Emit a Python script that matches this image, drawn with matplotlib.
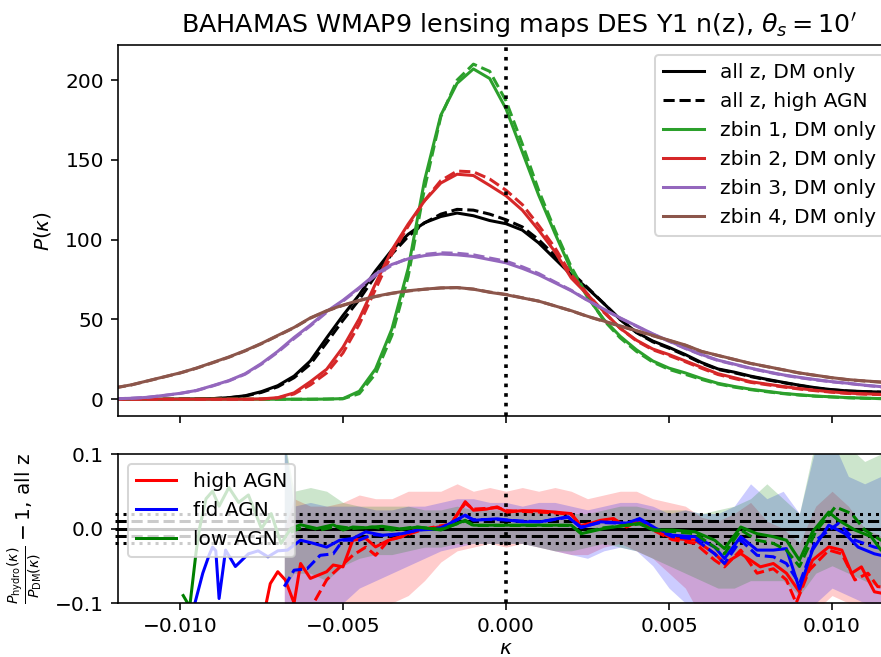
import matplotlib
matplotlib.use("Agg")
import matplotlib.pyplot as plt

# convergence bins (top panel)
kappa = [-0.012, -0.0115, -0.011, -0.0105, -0.010, -0.0095, -0.009, -0.0085, -0.008, -0.0075,
         -0.007, -0.0065, -0.006, -0.0055, -0.005, -0.0045, -0.004, -0.0035, -0.003, -0.0025,
         -0.002, -0.0015, -0.001, -0.0005, 0.0, 0.0005, 0.001, 0.0015, 0.002, 0.0025,
         0.003, 0.0035, 0.004, 0.0045, 0.005, 0.0055, 0.006, 0.0065, 0.007, 0.0075,
         0.008, 0.0085, 0.009, 0.0095, 0.010, 0.0105, 0.011, 0.0115, 0.012]

allz_dm = [0, 0, 0, 0, 0.1, 0.2, 0.4, 1.0, 2.2, 4.8,
           8.5, 14.5, 24, 38.5, 52.5, 65.5, 80.5, 93.5, 103.4, 110.6,
           114.5, 116.7, 115, 112, 110, 106, 98, 88, 78, 69.5,
           60, 50, 42, 36.5, 32.5, 28, 23, 19, 17, 14.5,
           12.5, 10.6, 8.8, 7.2, 6.0, 5.2, 4.8, 4.5, 4.2]
allz_hi = [0, 0, 0, 0, 0.1, 0.2, 0.4, 0.9, 2.0, 4.3,
           7.8, 13.5, 22, 35.5, 49.5, 62.5, 77.5, 91, 102, 110.5,
           116, 119, 118.5, 116, 112.5, 108, 100, 90, 79.5, 70,
           60, 50, 41.8, 36, 32, 27.5, 22.6, 18.7, 16.6, 14.2,
           12.2, 10.4, 8.6, 7.0, 5.9, 5.1, 4.7, 4.4, 4.1]

z1_dm = [0, 0, 0, 0, 0, 0, 0, 0, 0, 0,
         0, 0, 0, 0.1, 0.4, 5, 19, 44, 82, 137,
         178, 198, 207, 201, 182, 155, 128, 104, 81, 64,
         50, 39.5, 31, 24, 19.5, 16.5, 13, 10, 8, 6.3,
         5, 3.7, 2.8, 2, 1.5, 1, 0.7, 0.4, 0.3]
z1_hi = [0, 0, 0, 0, 0, 0, 0, 0, 0, 0,
         0, 0, 0, 0.1, 0.3, 3.5, 16, 40, 77, 132,
         177, 200, 210, 205.5, 187, 160, 131, 106, 83, 64.5,
         49.5, 38.5, 30, 23.3, 18.7, 15.6, 12.4, 9.6, 7.6, 6.0,
         4.7, 3.5, 2.6, 1.9, 1.4, 0.9, 0.6, 0.4, 0.3]

z2_dm = [0, 0, 0, 0, 0, 0, 0, 0, 0, 0.2,
         1, 4, 11, 18.8, 32.6, 50.5, 72.5, 93.6, 109.8, 124.3,
         135.5, 141, 140.2, 134, 127.5, 118.5, 106, 92.5, 76, 65.5,
         55, 44.5, 37, 31.5, 28, 24, 20, 16, 13.5, 11,
         9.5, 8, 6.7, 5.6, 4.6, 3.8, 3.4, 3.1, 2.9]
z2_hi = [0, 0, 0, 0, 0, 0, 0, 0, 0, 0.1,
         0.8, 3.3, 9, 16.5, 29, 47, 69, 91, 108.5, 124.5,
         137, 143, 142.5, 138, 131, 122, 109, 95, 78, 66,
         54.5, 44.5, 36.6, 31, 27.4, 23.5, 19.4, 15.5, 13, 10.6,
         9.1, 7.7, 6.4, 5.3, 4.4, 3.6, 3.2, 2.9, 2.7]

z3_dm = [0.3, 0.6, 1.2, 2.4, 3.7, 5.5, 8.5, 11.7, 16, 22.4,
         30, 38.7, 46.5, 55, 62, 70, 78.5, 84.5, 88, 90,
         91, 90.5, 89.5, 87.5, 85.5, 82, 78, 73, 68, 62,
         56.5, 51, 46, 41, 36.5, 32, 28, 24.5, 22, 19.5,
         17.3, 15.3, 13.7, 12.3, 11, 10, 8.8, 7.9, 7.2]
z3_hi = [0.3, 0.6, 1.2, 2.3, 3.6, 5.4, 8.3, 11.5, 15.7, 22,
         29.5, 38, 46, 54.5, 61.5, 69.5, 77.5, 84, 88.5, 90.8,
         91.8, 91.5, 90.5, 88.5, 86.5, 83, 78.8, 73.5, 68.3, 62,
         56.3, 50.8, 45.8, 40.8, 36.3, 31.8, 27.8, 24.3, 21.8, 19.3,
         17.1, 15.1, 13.5, 12.1, 10.9, 9.9, 8.7, 7.8, 7.1]

z4_dm = [7.2, 9, 11.5, 14, 16.5, 19.5, 23, 26.5, 30.5, 35,
         40, 45, 51, 55.5, 59, 62, 64.5, 66.5, 68, 69,
         69.8, 70, 69, 67, 65.5, 63.5, 61.5, 58.5, 55.5, 52,
         49, 46, 43, 40, 37, 34, 30, 27.5, 25, 22.5,
         20.5, 18.5, 16.5, 15, 13.5, 12.3, 11.5, 10.8, 10.2]
z4_hi = [7.1, 8.9, 11.4, 13.9, 16.4, 19.4, 22.8, 26.3, 30.3, 34.8,
         39.8, 44.8, 50.8, 55.3, 58.8, 61.8, 64.3, 66.3, 67.8, 68.9,
         69.7, 69.9, 69, 67.2, 65.7, 63.6, 61.5, 58.5, 55.4, 51.9,
         48.8, 45.8, 42.8, 39.8, 36.8, 33.8, 29.9, 27.4, 24.9, 22.4,
         20.4, 18.4, 16.4, 14.9, 13.4, 12.2, 11.4, 10.7, 10.1]

# ratio lines (bottom panel), solid and dashed per feedback model
hi_k = [-0.0074, -0.00723, -0.0070, -0.00677, -0.0065, -0.0063, -0.0060, -0.0055, -0.0053, -0.0050,
        -0.0047, -0.0043, -0.0040, -0.0036, -0.0032, -0.0028, -0.0022, -0.0017, -0.00125, -0.0010,
        -0.0006, -0.00027, 0.00004, 0.0005, 0.00105, 0.0015, 0.0020, 0.0023, 0.0029, 0.0033,
        0.0037, 0.0041, 0.0045, 0.0051, 0.0058, 0.0064, 0.0067, 0.0072, 0.0078, 0.0082,
        0.0086, 0.0090, 0.0094, 0.0099, 0.0103, 0.0106, 0.0109, 0.0113, 0.0119]
hi_r = [-0.11, -0.074, -0.058, -0.069, -0.1, -0.047, -0.067, -0.058, -0.049, -0.0515,
        -0.0157, -0.0134, -0.0247, -0.0157, -0.011, -0.002, 0.001, 0.005, 0.036, 0.0245,
        0.026, 0.029, 0.022, 0.024, 0.0236, 0.022, 0.02, 0.003, 0.011, 0.0134,
        0.002, 0.011, 0.0, -0.0134, -0.0157, -0.0336, -0.047, -0.0336, -0.0515, -0.047,
        -0.06, -0.085, -0.0425, -0.0247, -0.029, -0.06, -0.0515, -0.085, -0.09]
hi_k2 = [-0.0061, -0.0059, -0.0055, -0.0053, -0.0047, -0.0043, -0.0040, -0.0036, -0.0032, -0.0026,
         -0.0022, -0.0017, -0.00125, -0.0010, -0.0006, -0.00027, 0.00004, 0.0005, 0.00105, 0.0015,
         0.0020, 0.0023, 0.0029, 0.0033, 0.0037, 0.0041, 0.0045, 0.0051, 0.0058, 0.0064,
         0.0067, 0.0072, 0.0077, 0.0082, 0.0086, 0.0089, 0.0093, 0.0099, 0.0103, 0.0107,
         0.0111, 0.0114, 0.0119]
hi_r2 = [-0.115, -0.1, -0.069, -0.06, -0.036, -0.025, -0.036, -0.0157, -0.011, -0.002,
         0.002, 0.006, 0.034, 0.026, 0.027, 0.028, 0.024, 0.023, 0.022, 0.021,
         0.019, 0.004, 0.01, 0.012, 0.003, 0.01, -0.002, -0.015, -0.02, -0.0425,
         -0.0515, -0.029, -0.06, -0.054, -0.069, -0.1, -0.056, -0.029, -0.034, -0.069,
         -0.06, -0.078, -0.08]

fid_k = [-0.0096, -0.0093, -0.0091, -0.0090, -0.0089, -0.0088, -0.0086, -0.0083, -0.0079, -0.0076,
         -0.0073, -0.0070, -0.0067, -0.0063, -0.0059, -0.0055, -0.0051, -0.0047, -0.0043, -0.0038,
         -0.0032, -0.0027, -0.0022, -0.0020, -0.00125, -0.0010, -0.00027, 0.0005, 0.00105, 0.0019,
         0.0023, 0.0029, 0.0037, 0.0041, 0.0046, 0.0051, 0.0058, 0.0064, 0.0067, 0.0072,
         0.0077, 0.0082, 0.0086, 0.0090, 0.0094, 0.0099, 0.0104, 0.0108, 0.0113, 0.0119]
fid_r = [-0.11, -0.06, -0.035, -0.025, -0.03, -0.094, -0.029, -0.051, -0.034, -0.03,
         -0.038, -0.03, -0.029, -0.0157, -0.02, -0.025, -0.0157, -0.0134, -0.0045, -0.009,
         -0.007, -0.002, -0.001, 0.0, 0.018, 0.011, 0.013, 0.009, 0.009, 0.0157,
         0.001, 0.009, 0.007, 0.0134, 0.0, -0.009, -0.011, -0.025, -0.0403, -0.011,
         -0.029, -0.029, -0.027, -0.081, -0.029, 0.0045, -0.007, -0.025, -0.034, -0.04]
fid_k2 = [-0.0068, -0.0065, -0.0061, -0.0057, -0.0053, -0.0050, -0.0045, -0.0041, -0.0036, -0.0031,
          -0.0027, -0.0020, -0.00125, -0.0010, -0.00027, 0.0005, 0.00105, 0.0019, 0.0023, 0.0029,
          0.0037, 0.0041, 0.0046, 0.0051, 0.0058, 0.0064, 0.0067, 0.0072, 0.0077, 0.0082,
          0.0086, 0.0090, 0.0095, 0.0102, 0.0107, 0.0113, 0.0119]
fid_r2 = [-0.078, -0.056, -0.054, -0.036, -0.034, -0.0157, -0.0157, -0.008, -0.01, -0.006,
          -0.002, 0.001, 0.017, 0.012, 0.012, 0.01, 0.009, 0.015, 0.002, 0.008,
          0.007, 0.012, -0.001, -0.011, -0.014, -0.034, -0.047, -0.0157, -0.036, -0.038,
          -0.047, -0.074, -0.0157, 0.007, -0.0157, -0.025, -0.03]

lo_k = [-0.0099, -0.0097, -0.0095, -0.0094, -0.0092, -0.0090, -0.0088, -0.0085, -0.0082, -0.0079,
        -0.0075, -0.0072, -0.0069, -0.0066, -0.0063, -0.0058, -0.0053, -0.0050, -0.0047, -0.0043,
        -0.0038, -0.0032, -0.0027, -0.0020, -0.00125, -0.0010, 0.0, 0.0010, 0.0020, 0.0023,
        0.0030, 0.0041, 0.0045, 0.0051, 0.0058, 0.0064, 0.0067, 0.0072, 0.0077, 0.0082,
        0.0086, 0.0090, 0.0094, 0.0099, 0.0102, 0.0107, 0.0112, 0.0115, 0.0119]
lo_r = [-0.09, -0.105, -0.03, 0.0, 0.04, 0.05, 0.03, 0.055, 0.035, 0.045,
        0.0, 0.02, -0.02, 0.0, 0.005, 0.0, 0.005, -0.002, 0.002, 0.001,
        0.003, -0.001, 0.002, -0.002, 0.011, 0.0045, 0.0045, 0.0045, 0.0045, -0.007,
        0.0, 0.007, -0.002, -0.002, -0.0045, -0.0157, -0.027, 0.002, -0.007, -0.011,
        -0.0157, -0.0425, -0.0045, 0.022, 0.011, -0.002, -0.011, -0.029, -0.035]
lo_k2 = [-0.0066, -0.0062, -0.0057, -0.0052, -0.0047, -0.0041, -0.0035, -0.0028, -0.0020, -0.00125,
         -0.0010, 0.0, 0.0010, 0.0020, 0.0023, 0.0030, 0.0041, 0.0046, 0.0051, 0.0058,
         0.0064, 0.0067, 0.0072, 0.0077, 0.0082, 0.0086, 0.0090, 0.0095, 0.0101, 0.0106,
         0.0110, 0.0115, 0.0119]
lo_r2 = [-0.005, 0.003, -0.002, 0.003, 0.0, 0.002, -0.002, 0.002, -0.001, 0.01,
         0.004, 0.004, 0.004, 0.004, -0.006, 0.001, 0.006, -0.003, -0.004, -0.007,
         -0.025, -0.034, -0.002, -0.0157, -0.02, -0.029, -0.051, -0.004, 0.029, 0.02,
         -0.002, -0.0157, -0.02]

# scatter bands of the ratio
band_k = [-0.0068, -0.0065, -0.006, -0.0055, -0.005, -0.0045, -0.004, -0.0035, -0.003, -0.0025,
          -0.002, -0.0015, -0.001, -0.0005, 0.0, 0.0005, 0.001, 0.0015, 0.002, 0.0025,
          0.003, 0.0035, 0.004, 0.0045, 0.005, 0.0055, 0.006, 0.0065, 0.007, 0.0075,
          0.008, 0.0085, 0.009, 0.0095, 0.010, 0.0105, 0.011, 0.0115, 0.0119]
hi_lo = [-0.11, -0.11, -0.12, -0.12, -0.11, -0.11, -0.11, -0.1, -0.09, -0.07,
         -0.045, -0.03, -0.025, -0.02, -0.025, -0.02, -0.025, -0.03, -0.035, -0.035,
         -0.025, -0.02, -0.03, -0.04, -0.06, -0.08, -0.12, -0.12, -0.11, -0.12,
         -0.12, -0.12, -0.13, -0.11, -0.09, -0.1, -0.11, -0.12, -0.12]
hi_up = [0.0, 0.04, 0.03, 0.03, 0.035, 0.045, 0.04, 0.04, 0.05, 0.05,
         0.05, 0.06, 0.05, 0.055, 0.05, 0.055, 0.05, 0.055, 0.05, 0.04,
         0.045, 0.05, 0.05, 0.04, 0.035, 0.03, 0.015, 0.01, 0.02, 0.035,
         0.01, 0.0, -0.02, 0.03, 0.05, 0.03, 0.0, -0.01, -0.01]
fid_lo = [-0.11, -0.11, -0.11, -0.11, -0.1, -0.08, -0.07, -0.06, -0.05, -0.04,
          -0.03, -0.025, -0.02, -0.02, -0.02, -0.02, -0.025, -0.03, -0.035, -0.04,
          -0.03, -0.025, -0.03, -0.05, -0.08, -0.1, -0.1, -0.11, -0.11, -0.12,
          -0.11, -0.11, -0.12, -0.1, -0.08, -0.09, -0.1, -0.11, -0.11]
fid_up = [0.12, 0.03, 0.035, 0.03, 0.03, 0.03, 0.025, 0.025, 0.03, 0.03,
          0.035, 0.04, 0.04, 0.035, 0.035, 0.03, 0.035, 0.035, 0.03, 0.025,
          0.03, 0.035, 0.035, 0.03, 0.02, 0.025, 0.02, 0.02, 0.03, 0.06,
          0.04, 0.05, 0.02, 0.11, 0.12, 0.07, 0.06, 0.07, 0.07]
lo_lo = [-0.08, -0.06, -0.06, -0.07, -0.05, -0.04, -0.035, -0.035, -0.03, -0.025,
         -0.025, -0.02, -0.02, -0.02, -0.02, -0.02, -0.025, -0.03, -0.03, -0.025,
         -0.02, -0.025, -0.03, -0.04, -0.05, -0.06, -0.07, -0.08, -0.08, -0.07,
         -0.07, -0.07, -0.09, -0.06, -0.05, -0.06, -0.07, -0.08, -0.08]
lo_up = [0.12, 0.05, 0.055, 0.05, 0.035, 0.03, 0.03, 0.03, 0.03, 0.025,
         0.025, 0.03, 0.025, 0.025, 0.025, 0.025, 0.025, 0.025, 0.02, 0.02,
         0.025, 0.03, 0.03, 0.025, 0.025, 0.025, 0.02, 0.025, 0.03, 0.04,
         0.06, 0.04, 0.02, 0.12, 0.12, 0.11, 0.09, 0.1, 0.1]

fig = plt.figure(figsize=(881 / 145, 657 / 145), dpi=145)
ax1 = fig.add_axes([0.13394, 0.36682, 0.88082, 0.56469])
ax2 = fig.add_axes([0.13394, 0.08219, 0.88082, 0.22679], sharex=ax1)

# top: PDFs
ax1.plot(kappa, allz_dm, color="k", ls="-", label="all z, DM only")
ax1.plot(kappa, allz_hi, color="k", ls="--", label="all z, high AGN")
zbins = [(z1_dm, z1_hi, "C2"), (z2_dm, z2_hi, "C3"), (z3_dm, z3_hi, "C4"), (z4_dm, z4_hi, "C5")]
for i, (dm, hi, c) in enumerate(zbins):
    ax1.plot(kappa, dm, color=c, ls="-", label=f"zbin {i + 1}, DM only")
    ax1.plot(kappa, hi, color=c, ls="--")
ax1.axvline(0, color="k", ls=":", lw=1.8)
ax1.set_xlim(-0.0119, 0.0119)
ax1.set_ylim(-10.5, 222)
ax1.set_ylabel(r"$P(\kappa)$")
ax1.yaxis.set_label_coords(-0.0838, 0.5)
ax1.tick_params(labelbottom=False)
ax1.legend(loc="upper right")

# bottom: ratios
ax2.fill_between(band_k, hi_lo, hi_up, color="red", alpha=0.2, lw=0)
ax2.fill_between(band_k, fid_lo, fid_up, color="blue", alpha=0.2, lw=0)
ax2.fill_between(band_k, lo_lo, lo_up, color="green", alpha=0.2, lw=0)
ax2.hlines(0, -0.012, 0.012, color="k", lw=1.5, clip_on=False)
ax2.hlines([-0.01, 0.01], -0.012, 0.012, color="k", lw=1.5, ls="--", clip_on=False)
ax2.hlines([-0.02, 0.02], -0.012, 0.012, color="k", lw=1.5, ls=":", clip_on=False)
ax2.axvline(0, color="k", ls=":", lw=1.8)
ax2.plot(hi_k, hi_r, color="red", label="high AGN")
ax2.plot(hi_k2, hi_r2, color="red", ls="--")
ax2.plot(fid_k, fid_r, color="blue", label="fid AGN")
ax2.plot(fid_k2, fid_r2, color="blue", ls="--")
ax2.plot(lo_k, lo_r, color="green", label="low AGN")
ax2.plot(lo_k2, lo_r2, color="green", ls="--")
ax2.set_ylim(-0.1, 0.1)
ax2.set_yticks([-0.1, 0.0, 0.1])
ax2.set_xticks([-0.010, -0.005, 0.0, 0.005, 0.010])
ax2.set_xlabel(r"$\kappa$", labelpad=1.5)
ax2.set_ylabel(r"$\frac{P_{\rm hydro}(\kappa)}{P_{\rm DM}(\kappa)} - 1$, all z")
ax2.yaxis.set_label_coords(-0.095, 0.5)
ax2.legend(loc="upper left")

fig.text(519 / 881, 1 - 33 / 657, r"BAHAMAS WMAP9 lensing maps DES Y1 n(z), $\theta_s = 10'$",
         ha="center", va="baseline", fontsize=12.6)

fig.savefig("out.png", dpi=145)
